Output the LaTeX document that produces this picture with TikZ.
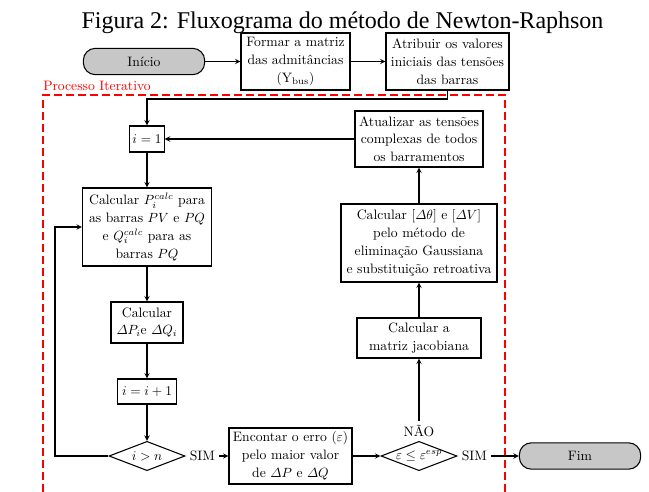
\documentclass[tikz,border=0pt]{standalone}
\usepackage{amsmath}
\usepackage{amssymb}
\usepackage{fontspec}
\newfontfamily\titulofont{Liberation Serif}
\usepackage{tikz}
\usetikzlibrary{positioning,arrows,shapes}
\usepackage{xcolor}

\tikzset{
    texto/.style={font=\fontsize{10.25}{13.35}\selectfont},
    caixa/.style={texto, draw, thick, align=center, inner sep=2pt},
    terminal/.style={caixa, rounded corners=9pt, fill=black!22, minimum width=91pt, minimum height=19.75pt},
    decisao/.style={texto, draw, thick, diamond, aspect=2.6, inner sep=0pt, minimum width=57pt, minimum height=22pt},
    rotulo/.style={texto, inner sep=3pt}
}

\begin{document}
\begin{tikzpicture}[x=0.75pt, y=-0.75pt, >=stealth]
            \useasboundingbox (0,0) rectangle (649,492);
            \node[anchor=base, inner sep=0pt, font=\titulofont\fontsize{18}{22}\selectfont] (titulo) at (342.5,28.3) {Figura 2: Fluxograma do método de Newton-Raphson};

            \node[texto, red, anchor=base west, inner sep=0pt] (processo) at (43,90.7) {Processo Iterativo};
            \draw[red, thick, dash pattern=on 6pt off 3pt] (43,492) -- (43,95) -- (505,95) -- (505,492);

            \node[terminal] (inicio) at (144,61.5) {Início};
            \node[caixa, minimum width=81.75pt, minimum height=42.75pt] (ybus) at (295.5,61.5) {Formar a matriz\\das admitâncias\\$(\mathrm{Y}_{\mathrm{bus}})$};
            \node[caixa, minimum width=92.25pt, minimum height=42.75pt] (tensoes) at (447.5,61.5) {Atribuir os valores\\iniciais das tensões\\das barras};

            \node[caixa, minimum width=24.75pt, minimum height=19.5pt] (inicial) at (147,139) {$i=1$};
            \node[caixa, minimum width=96pt, minimum height=42pt] (atualiza) at (419,139) {Atualizar as tensões\\complexas de todos\\os barramentos};
            \node[caixa, minimum width=96.75pt, minimum height=58.5pt] (pcalc) at (147,227) {Calcular $P_i^{calc}$ para\\as barras $PV$ e $PQ$\\e $Q_i^{calc}$ para as\\barras $PQ$};
            \node[caixa, minimum width=117pt, minimum height=58.5pt] (gauss) at (419,243) {Calcular $[\varDelta\theta]$ e $[\varDelta V]$\\pelo método de\\eliminação Gaussiana\\e substituição retroativa};
            \node[caixa, minimum width=54pt, minimum height=30.75pt] (deltas) at (147,322.5) {Calcular\\$\varDelta P_i$e $\varDelta Q_i$};
            \node[caixa, minimum width=93pt, minimum height=30pt] (jacob) at (419,338) {Calcular a\\matriz jacobiana};
            \node[caixa, minimum width=44.25pt, minimum height=18.75pt] (incr) at (147,391.5) {$i=i+1$};

            \node[decisao] (teste) at (147,456) {$i>n$};
            \node[rotulo, right=0pt of teste] (sim1) {SIM};
            \node[caixa, minimum width=92.25pt, minimum height=42pt] (erro) at (290.5,456) {Encontar o erro $(\varepsilon)$\\pelo maior valor\\de $\varDelta P$ e $\varDelta Q$};
            \node[decisao] (conv) at (419,456) {$\varepsilon \leq \varepsilon^{esp}$};
            \node[rotulo, right=0pt of conv] (sim2) {SIM};
            \node[rotulo, above=0pt of conv] (nao) {NÃO};
            \node[terminal] (fim) at (580,456) {Fim};

            \coordinate (desvio) at (447.5,99);
            \coordinate (volta) at (55,456);

            \begin{scope}[->, thick]
            \draw (inicio) -- (ybus);
            \draw (ybus) -- (tensoes);
            \draw (tensoes.south) -- (desvio) -| (inicial.north);
            \draw (atualiza) -- (inicial);
            \draw (inicial) -- (pcalc);
            \draw (pcalc) -- (deltas);
            \draw (deltas) -- (incr);
            \draw (incr) -- (teste);
            \draw (teste.west) -- (volta) |- (pcalc.west);
            \draw (sim1) -- (erro);
            \draw (erro) -- (conv);
            \draw (sim2) -- (fim);
            \draw (nao) -- (jacob);
            \draw (jacob) -- (gauss);
            \draw (gauss) -- (atualiza);
            \end{scope}
\end{tikzpicture}
\end{document}
